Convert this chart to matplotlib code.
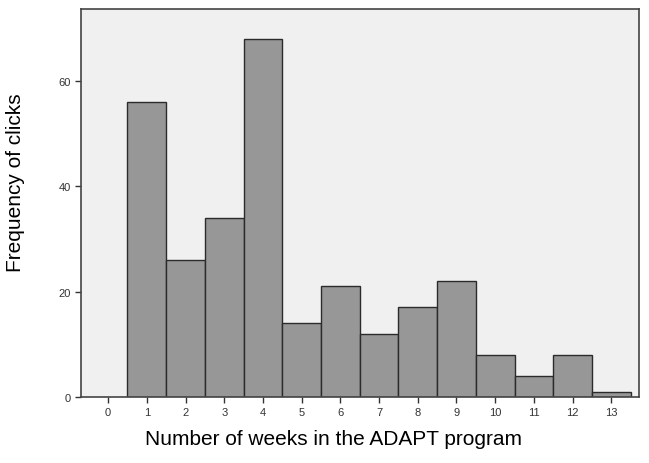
import matplotlib
matplotlib.use("Agg")
import matplotlib.pyplot as plt

plt.rcParams["font.family"] = ["Liberation Sans", "DejaVu Sans"]

weeks = [1, 2, 3, 4, 5, 6, 7, 8, 9, 10, 11, 12, 13]
clicks = [56, 26, 34, 68, 14, 21, 12, 17, 22, 8, 4, 8, 1]
xticks = list(range(0, 14))
yticks = [0, 20, 40, 60]

fig = plt.figure(figsize=(6.49, 4.64), dpi=100)
ax = fig.add_axes([0.1248, 0.1422, 0.86, 0.8362])
ax.set_facecolor("#F0F0F0")

ax.bar(weeks, clicks, width=1.0, color="#979797", edgecolor="#2b2b2b", linewidth=1.0)

ax.set_xlim(-0.7, 13.72)
ax.set_ylim(0, 73.6)
ax.set_xticks(xticks)
ax.set_yticks(yticks)
ax.tick_params(axis="both", direction="out", length=4, width=1, labelsize=8, colors="#333333")
for s in ax.spines.values():
    s.set_color("#444444")
    s.set_linewidth(1.2)

ax.set_xlabel("Number of weeks in the ADAPT program", fontsize=15, va="center", ha="center")
ax.xaxis.set_label_coords(0.4516, -0.108)
ax.set_ylabel("Frequency of clicks", fontsize=15, va="center", ha="center")
ax.yaxis.set_label_coords(-0.118, 0.554)

fig.savefig("out.png", dpi=100)
